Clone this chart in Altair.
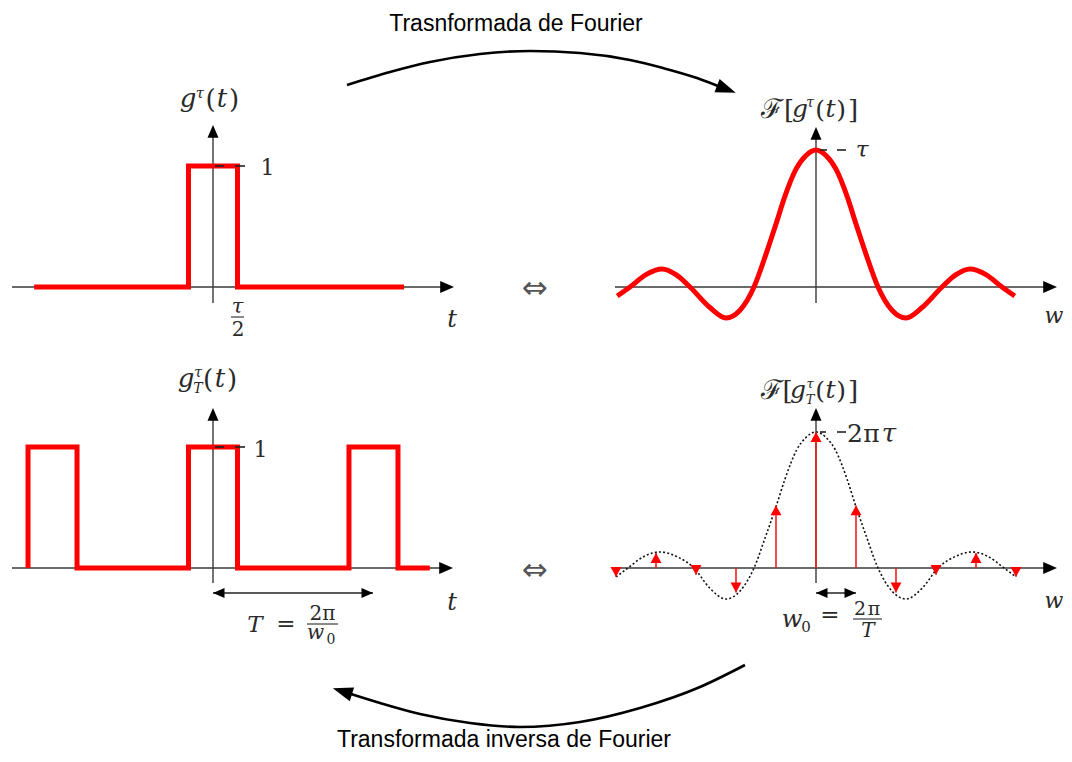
import altair as alt
import pandas as pd
import numpy as np

W, H = 1056, 744

# ------------------------------------------------------------------ data
# g^tau(t): single rectangular pulse (t in units of tau/2, amplitude 1)
pulse_t = [-7.3, -1.0, -1.0, 1.0, 1.0, 7.8]
pulse_g = [0, 0, 1, 1, 0, 0]

# g_T^tau(t): periodic pulse train, period T
train_t = [-7.55, -7.55, -5.55, -5.55, -1.0, -1.0, 1.0, 1.0, 5.55, 5.55, 7.55, 7.55, 8.85]
train_g = [0, 1, 1, 0, 0, 1, 1, 0, 0, 1, 1, 0, 0]
period_T = 6.53

# F[g^tau(t)]: continuous spectrum (w in units of w0, amplitude in units of tau)
spec_w = [-4.97, -4.65, -4.25, -3.85, -3.5, -3.15, -2.65, -2.25, -1.9, -1.55, -1.25, -1.0, -0.78, -0.5,
          -0.25, 0.0, 0.25, 0.5, 0.78, 1.0, 1.25, 1.55, 1.9, 2.25, 2.65, 3.15, 3.5, 3.85, 4.25, 4.65, 4.97]
spec_v = [-0.066, 0.0, 0.09, 0.131, 0.09, 0.0, -0.15, -0.226, -0.17, 0.0, 0.24, 0.46, 0.66, 0.86,
          0.96, 1.0, 0.96, 0.86, 0.66, 0.46, 0.24, 0.0, -0.17, -0.226, -0.15, 0.0, 0.09, 0.131, 0.09, 0.0, -0.066]

# F[g_T^tau(t)]: dotted envelope (amplitude in units of 2*pi*tau)
env_w = [-5.0, -4.7, -4.3, -3.9, -3.45, -3.05, -2.65, -2.25, -1.9, -1.55, -1.25, -1.0, -0.78, -0.48,
         -0.25, 0.0, 0.25, 0.48, 0.78, 1.0, 1.25, 1.55, 1.9, 2.25, 2.65, 3.05, 3.45, 3.9, 4.3, 4.7, 5.0]
env_v = [-0.066, 0.0, 0.085, 0.118, 0.08, 0.0, -0.15, -0.228, -0.17, 0.0, 0.24, 0.45, 0.65, 0.87,
         0.96, 1.0, 0.96, 0.87, 0.65, 0.45, 0.24, 0.0, -0.17, -0.228, -0.15, 0.0, 0.08, 0.118, 0.085, 0.0, -0.066]

# line spectrum: harmonics n*w0
harm_n = [-5, -4, -3, -2, -1, 0, 1, 2, 3, 4, 5]
harm_v = [-0.065, 0.11, -0.05, -0.18, 0.46, 1.0, 0.46, -0.18, -0.05, 0.11, -0.065]

# ------------------------------------------------------------------ styling
RED = "#ff0000"
AXC = "#3a3a3a"
TXT = "#2a2a2a"
MATH = "DejaVu Serif"
SANS = "Liberation Sans"

HEAD_R = "M0,0L-2.3,-1L-2.3,1Z"
HEAD_L = "M0,0L2.3,-1L2.3,1Z"
HEAD_U = "M0,0L-1,2.3L1,2.3Z"
TRI_UP = "M0,0L1,1.8L-1,1.8Z"
TRI_DN = "M0,0L1,-1.8L-1,-1.8Z"
CURVE_HEAD = "M0,0L-2,-0.72L-2,0.72Z"


class Frame:
    def __init__(self, sx, sy):
        self.sx, self.sy = sx, sy
        self.layers = []

    def enc(self, base, **extra):
        return base.encode(x=alt.X("x:Q", scale=self.sx, axis=None),
                           y=alt.Y("y:Q", scale=self.sy, axis=None), **extra)

    def line(self, xs, ys, **mk):
        df = pd.DataFrame({"x": list(xs), "y": list(ys), "i": list(range(len(xs)))})
        self.layers.append(self.enc(alt.Chart(df).mark_line(**mk), order=alt.Order("i:Q")))

    def seg(self, x0, y0, x1, y1, **mk):
        df = pd.DataFrame({"x": list(x0), "y": list(y0), "x2": list(x1), "y2": list(y1)})
        self.layers.append(self.enc(alt.Chart(df).mark_rule(**mk), x2="x2:Q", y2="y2:Q"))

    def pts(self, xs, ys, shape, size, color, angle=None):
        df = pd.DataFrame({"x": list(xs), "y": list(ys)})
        mk = dict(shape=shape, size=size, filled=True, color=color, opacity=1, strokeWidth=0)
        if angle is not None:
            mk["angle"] = angle
        self.layers.append(self.enc(alt.Chart(df).mark_point(**mk)))

    def texts(self, rows, font, style, color=TXT):
        df = pd.DataFrame(rows, columns=["s", "x", "y", "size"])
        self.layers.append(self.enc(
            alt.Chart(df).mark_text(font=font, fontStyle=style, color=color,
                                    align="center", baseline="alphabetic"),
            text="s:N", size=alt.Size("size:Q", scale=None, legend=None)))

    def chart(self):
        return alt.layer(*self.layers)


class Panel(Frame):
    """Math coordinate frame whose origin sits at page pixel (ox, oy)."""
    def __init__(self, ox, oy, ux, uy):
        self.ox, self.oy, self.ux, self.uy = ox, oy, ux, uy
        sx = alt.Scale(domain=[(8 - ox) / ux, (8 + W - ox) / ux], nice=False, zero=False)
        sy = alt.Scale(domain=[(oy - 8 - H) / uy, (oy - 8) / uy], nice=False, zero=False)
        super().__init__(sx, sy)

    def xd(self, px):
        return (px - self.ox) / self.ux

    def yd(self, py):
        return (self.oy - py) / self.uy

    def axes(self, left, right, bottom, top):
        self.seg([self.xd(left)], [0], [self.xd(right - 8)], [0], color=AXC, strokeWidth=1.4)
        self.seg([0], [self.yd(bottom)], [0], [self.yd(top + 8)], color=AXC, strokeWidth=1.4)
        self.pts([self.xd(right)], [0], HEAD_R, 144, "black")
        self.pts([0], [self.yd(top)], HEAD_U, 121, "black")

    def tick(self, yv, pieces):
        self.seg([self.xd(self.ox + a) for a, b in pieces], [yv] * len(pieces),
                 [self.xd(self.ox + b) for a, b in pieces], [yv] * len(pieces),
                 color="#222", strokeWidth=1.6)


# ------------------------------------------------------------------ panels
P1 = Panel(213, 287, 24.5, 121)
P1.axes(12, 454, 303, 125)
P1.line(pulse_t, pulse_g, color=RED, strokeWidth=5, strokeJoin="miter")
P1.tick(1, [(2, 11), (22, 32)])

P3 = Panel(213, 568, 24.5, 121)
P3.axes(12, 453, 583, 408)
P3.line(train_t, train_g, color=RED, strokeWidth=5, strokeJoin="miter")
P3.tick(1, [(2, 11), (22, 32)])
yT = P3.yd(593)
P3.seg([0], [yT], [period_T], [yT], color="#222", strokeWidth=1.5)
P3.pts([0], [yT], HEAD_L, 100, "black")
P3.pts([period_T], [yT], HEAD_R, 100, "black")

P2 = Panel(816, 287, 40, 137)
P2.axes(615, 1057, 303, 127)
P2.line(spec_w, spec_v, color=RED, strokeWidth=5, interpolate="monotone")
P2.tick(1, [(4, 11), (21, 30)])

P4 = Panel(816, 568, 40, 136)
P4.axes(615, 1057, 583, 408)
P4.line(env_w, env_v, color="#111", strokeWidth=1.6, strokeDash=[2, 2.2], interpolate="monotone")
P4.seg(harm_n, [0] * len(harm_n), harm_n, harm_v, color="#f02020", strokeWidth=1.6)
up = [(n, v) for n, v in zip(harm_n, harm_v) if v > 0]
dn = [(n, v) for n, v in zip(harm_n, harm_v) if v <= 0]
P4.pts([n for n, v in up], [v for n, v in up], TRI_UP, 121, RED)
P4.pts([n for n, v in dn], [v for n, v in dn], TRI_DN, 121, RED)
P4.tick(1, [(4, 10), (21, 30)])
yw = P4.yd(593)
P4.seg([0], [yw], [1], [yw], color="#222", strokeWidth=1.5)
P4.pts([0], [yw], HEAD_L, 100, "black")
P4.pts([1], [yw], HEAD_R, 100, "black")

# ------------------------------------------------------------------ canvas (page pixels)
C = Frame(alt.Scale(domain=[8, 8 + W], nice=False, zero=False),
          alt.Scale(domain=[8, 8 + H], nice=False, zero=False, reverse=True))

top_x = [347, 390, 430, 480, 530, 580, 630, 663, 697, 718]
top_y = [85, 72, 62, 54, 51, 53, 60, 68, 78, 86]
C.line(top_x, top_y, color="black", strokeWidth=2.6, interpolate="monotone")
ang = float(np.degrees(np.arctan2(top_y[-1] - top_y[-2], top_x[-1] - top_x[-2]))) % 360
C.pts([top_x[-1] + 19 * np.cos(np.radians(ang))], [top_y[-1] + 19 * np.sin(np.radians(ang))],
      CURVE_HEAD, 400, "black", angle=ang)

bot_x = [351, 380, 420, 470, 520, 580, 640, 700, 745]
bot_y = [694, 703, 714, 723, 727, 722, 708, 687, 665]
C.line(bot_x, bot_y, color="black", strokeWidth=2.6, interpolate="monotone")
ang2 = float(np.degrees(np.arctan2(bot_y[0] - bot_y[1], bot_x[0] - bot_x[1]))) % 360
C.pts([bot_x[0] + 19 * np.cos(np.radians(ang2))], [bot_y[0] + 19 * np.sin(np.radians(ang2))],
      CURVE_HEAD, 400, "black", angle=ang2)

# fraction bars
C.seg([231, 307, 853], [317, 624, 619], [244, 338, 882], [317, 624, 619], color=TXT, strokeWidth=1.1)

C.texts([("Trasnformada de Fourier", 516, 31, 23),
         ("Transformada inversa de Fourier", 504, 747, 23)], SANS, "normal", "black")
C.texts([("⇔", 535, 298, 31), ("⇔", 535, 580, 31)], "DejaVu Sans", "normal", "#555555")
C.texts([("ℱ", 772, 118, 27), ("ℱ", 772, 399, 27)], "DejaVu Serif", "normal")

C.texts([
    # g^tau(t)
    ("g", 188, 107, 26), ("τ", 200, 98, 15), ("t", 222, 107, 26),
    ("τ", 237.5, 313, 21), ("t", 452, 327, 24),
    # F[g^tau(t)]
    ("g", 800, 117, 25), ("τ", 810, 107, 14), ("t", 830.5, 117, 25),
    ("τ", 862, 157, 23), ("w", 1054, 323, 22),
    # g_T^tau(t)
    ("g", 186, 387, 26), ("τ", 198, 377, 14), ("T", 198, 393, 14), ("t", 220, 387, 26),
    ("t", 452, 610, 24), ("T", 255, 632, 23), ("w", 315.5, 639, 20),
    # F[g_T^tau(t)]
    ("g", 798, 398, 25), ("τ", 810, 388, 13), ("T", 810, 404, 13), ("t", 830.5, 398, 25),
    ("τ", 889, 442, 26), ("w", 1054, 608, 22),
    ("w", 792, 627, 24), ("T", 868, 637, 20),
], MATH, "italic")

C.texts([
    ("(", 210.5, 108, 26), (")", 234, 108, 26), ("1", 267.5, 175, 22), ("2", 238, 336, 20),
    ("[", 789, 119, 26), ("(", 820, 118, 25), (")", 841, 118, 25), ("]", 853, 119, 26),
    ("(", 208, 388, 26), (")", 232, 388, 26), ("1", 260.5, 457, 22),
    ("=", 286, 631, 23), ("2π", 322.5, 620, 20), ("0", 331, 644, 14),
    ("[", 787.5, 400, 26), ("(", 820, 399, 25), (")", 841, 399, 25), ("]", 853, 400, 26),
    ("2", 855, 442, 25), ("π", 871.5, 442, 25),
    ("0", 806, 632, 15), ("=", 830, 622, 23), ("2", 860, 615, 19), ("π", 874, 615, 19),
], MATH, "normal")

chart = alt.layer(P1.chart(), P2.chart(), P3.chart(), P4.chart(), C.chart()).resolve_scale(
    x="independent", y="independent"
).properties(
    width=W, height=H, padding=0, background="white",
    autosize=alt.AutoSizeParams(type="none"),
).configure_view(stroke=None)

chart.save("out.html", embed_options={"renderer": "svg", "actions": False})
